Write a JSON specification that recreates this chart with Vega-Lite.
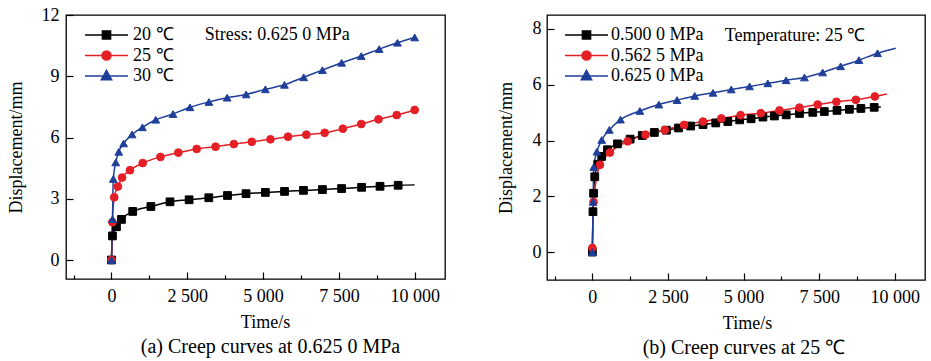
{
  "$schema": "https://vega.github.io/schema/vega-lite/v6.json",
  "padding": {"left": 6, "right": 5, "top": 5, "bottom": 5},
  "config": {
    "font": "Liberation Serif",
    "view": {"stroke": "#000000", "strokeWidth": 1.3},
    "axis": {"domain": false, "grid": false, "labelFont": "Liberation Serif", "labelFontSize": 18, "labelColor": "#000000", "titleFont": "Liberation Serif", "titleFontSize": 18, "titleFontWeight": "normal", "titleColor": "#000000", "tickColor": "#000000", "tickWidth": 1.2, "labelFlush": false, "labelOverlap": false},
    "legend": {"labelFont": "Liberation Serif", "labelFontSize": 18, "labelColor": "#000000"},
    "title": {"font": "Liberation Serif", "fontSize": 20, "fontWeight": "normal", "color": "#000000"}
  },
  "datasets": {
    "aLine": [
      {"t": 0, "d": 0, "s": "20 ℃"}, {"t": 33, "d": 1.18, "s": "20 ℃"}, {"t": 164, "d": 1.63, "s": "20 ℃"}, {"t": 329, "d": 1.99, "s": "20 ℃"}, {"t": 700, "d": 2.38, "s": "20 ℃"}, {"t": 1300, "d": 2.62, "s": "20 ℃"}, {"t": 1930, "d": 2.85, "s": "20 ℃"}, {"t": 2560, "d": 2.95, "s": "20 ℃"}, {"t": 3210, "d": 3.05, "s": "20 ℃"}, {"t": 3826, "d": 3.16, "s": "20 ℃"}, {"t": 4438, "d": 3.25, "s": "20 ℃"}, {"t": 5075, "d": 3.31, "s": "20 ℃"}, {"t": 5707, "d": 3.36, "s": "20 ℃"}, {"t": 6332, "d": 3.41, "s": "20 ℃"}, {"t": 6957, "d": 3.45, "s": "20 ℃"}, {"t": 7590, "d": 3.5, "s": "20 ℃"}, {"t": 8250, "d": 3.56, "s": "20 ℃"}, {"t": 8857, "d": 3.61, "s": "20 ℃"}, {"t": 9455, "d": 3.66, "s": "20 ℃"}, {"t": 10000, "d": 3.68, "s": "20 ℃"},
      {"t": 0, "d": 0, "s": "25 ℃"}, {"t": 30, "d": 1.85, "s": "25 ℃"}, {"t": 90, "d": 3.07, "s": "25 ℃"}, {"t": 210, "d": 3.6, "s": "25 ℃"}, {"t": 350, "d": 4.04, "s": "25 ℃"}, {"t": 610, "d": 4.4, "s": "25 ℃"}, {"t": 1030, "d": 4.75, "s": "25 ℃"}, {"t": 1615, "d": 5.05, "s": "25 ℃"}, {"t": 2204, "d": 5.26, "s": "25 ℃"}, {"t": 2810, "d": 5.44, "s": "25 ℃"}, {"t": 3432, "d": 5.55, "s": "25 ℃"}, {"t": 4036, "d": 5.68, "s": "25 ℃"}, {"t": 4628, "d": 5.79, "s": "25 ℃"}, {"t": 5243, "d": 5.91, "s": "25 ℃"}, {"t": 5822, "d": 6.04, "s": "25 ℃"}, {"t": 6427, "d": 6.14, "s": "25 ℃"}, {"t": 7030, "d": 6.23, "s": "25 ℃"}, {"t": 7632, "d": 6.43, "s": "25 ℃"}, {"t": 8237, "d": 6.66, "s": "25 ℃"}, {"t": 8806, "d": 6.89, "s": "25 ℃"}, {"t": 9408, "d": 7.1, "s": "25 ℃"}, {"t": 10000, "d": 7.35, "s": "25 ℃"},
      {"t": 0, "d": 0, "s": "30 ℃"}, {"t": 33, "d": 2.0, "s": "30 ℃"}, {"t": 60, "d": 3.97, "s": "30 ℃"}, {"t": 140, "d": 4.78, "s": "30 ℃"}, {"t": 240, "d": 5.3, "s": "30 ℃"}, {"t": 400, "d": 5.71, "s": "30 ℃"}, {"t": 680, "d": 6.15, "s": "30 ℃"}, {"t": 1020, "d": 6.5, "s": "30 ℃"}, {"t": 1460, "d": 6.87, "s": "30 ℃"}, {"t": 2030, "d": 7.15, "s": "30 ℃"}, {"t": 2590, "d": 7.48, "s": "30 ℃"}, {"t": 3214, "d": 7.74, "s": "30 ℃"}, {"t": 3816, "d": 7.95, "s": "30 ℃"}, {"t": 4441, "d": 8.11, "s": "30 ℃"}, {"t": 5075, "d": 8.36, "s": "30 ℃"}, {"t": 5704, "d": 8.58, "s": "30 ℃"}, {"t": 6339, "d": 8.95, "s": "30 ℃"}, {"t": 6957, "d": 9.3, "s": "30 ℃"}, {"t": 7590, "d": 9.66, "s": "30 ℃"}, {"t": 8237, "d": 9.99, "s": "30 ℃"}, {"t": 8829, "d": 10.33, "s": "30 ℃"}, {"t": 9431, "d": 10.64, "s": "30 ℃"}, {"t": 10000, "d": 10.9, "s": "30 ℃"}
    ],
    "aPts": [
      {"t": 0, "d": 0, "s": "20 ℃"}, {"t": 33, "d": 1.18, "s": "20 ℃"}, {"t": 164, "d": 1.63, "s": "20 ℃"}, {"t": 329, "d": 1.99, "s": "20 ℃"}, {"t": 700, "d": 2.38, "s": "20 ℃"}, {"t": 1300, "d": 2.62, "s": "20 ℃"}, {"t": 1930, "d": 2.85, "s": "20 ℃"}, {"t": 2560, "d": 2.95, "s": "20 ℃"}, {"t": 3210, "d": 3.05, "s": "20 ℃"}, {"t": 3826, "d": 3.16, "s": "20 ℃"}, {"t": 4438, "d": 3.25, "s": "20 ℃"}, {"t": 5075, "d": 3.31, "s": "20 ℃"}, {"t": 5707, "d": 3.36, "s": "20 ℃"}, {"t": 6332, "d": 3.41, "s": "20 ℃"}, {"t": 6957, "d": 3.45, "s": "20 ℃"}, {"t": 7590, "d": 3.5, "s": "20 ℃"}, {"t": 8250, "d": 3.56, "s": "20 ℃"}, {"t": 8857, "d": 3.61, "s": "20 ℃"}, {"t": 9455, "d": 3.66, "s": "20 ℃"},
      {"t": 0, "d": 0, "s": "25 ℃"}, {"t": 30, "d": 1.85, "s": "25 ℃"}, {"t": 90, "d": 3.07, "s": "25 ℃"}, {"t": 210, "d": 3.6, "s": "25 ℃"}, {"t": 350, "d": 4.04, "s": "25 ℃"}, {"t": 610, "d": 4.4, "s": "25 ℃"}, {"t": 1030, "d": 4.75, "s": "25 ℃"}, {"t": 1615, "d": 5.05, "s": "25 ℃"}, {"t": 2204, "d": 5.26, "s": "25 ℃"}, {"t": 2810, "d": 5.44, "s": "25 ℃"}, {"t": 3432, "d": 5.55, "s": "25 ℃"}, {"t": 4036, "d": 5.68, "s": "25 ℃"}, {"t": 4628, "d": 5.79, "s": "25 ℃"}, {"t": 5243, "d": 5.91, "s": "25 ℃"}, {"t": 5822, "d": 6.04, "s": "25 ℃"}, {"t": 6427, "d": 6.14, "s": "25 ℃"}, {"t": 7030, "d": 6.23, "s": "25 ℃"}, {"t": 7632, "d": 6.43, "s": "25 ℃"}, {"t": 8237, "d": 6.66, "s": "25 ℃"}, {"t": 8806, "d": 6.89, "s": "25 ℃"}, {"t": 9408, "d": 7.1, "s": "25 ℃"}, {"t": 10000, "d": 7.35, "s": "25 ℃"},
      {"t": 0, "d": 0, "s": "30 ℃"}, {"t": 33, "d": 2.0, "s": "30 ℃"}, {"t": 60, "d": 3.97, "s": "30 ℃"}, {"t": 140, "d": 4.78, "s": "30 ℃"}, {"t": 240, "d": 5.3, "s": "30 ℃"}, {"t": 400, "d": 5.71, "s": "30 ℃"}, {"t": 680, "d": 6.15, "s": "30 ℃"}, {"t": 1020, "d": 6.5, "s": "30 ℃"}, {"t": 1460, "d": 6.87, "s": "30 ℃"}, {"t": 2030, "d": 7.15, "s": "30 ℃"}, {"t": 2590, "d": 7.48, "s": "30 ℃"}, {"t": 3214, "d": 7.74, "s": "30 ℃"}, {"t": 3816, "d": 7.95, "s": "30 ℃"}, {"t": 4441, "d": 8.11, "s": "30 ℃"}, {"t": 5075, "d": 8.36, "s": "30 ℃"}, {"t": 5704, "d": 8.58, "s": "30 ℃"}, {"t": 6339, "d": 8.95, "s": "30 ℃"}, {"t": 6957, "d": 9.3, "s": "30 ℃"}, {"t": 7590, "d": 9.66, "s": "30 ℃"}, {"t": 8237, "d": 9.99, "s": "30 ℃"}, {"t": 8829, "d": 10.33, "s": "30 ℃"}, {"t": 9431, "d": 10.64, "s": "30 ℃"}, {"t": 10000, "d": 10.9, "s": "30 ℃"}
    ],
    "bLine": [
      {"t": 0, "d": 0, "s": "0.500 0 MPa"}, {"t": 20, "d": 1.45, "s": "0.500 0 MPa"}, {"t": 40, "d": 2.11, "s": "0.500 0 MPa"}, {"t": 80, "d": 2.7, "s": "0.500 0 MPa"}, {"t": 180, "d": 3.15, "s": "0.500 0 MPa"}, {"t": 310, "d": 3.43, "s": "0.500 0 MPa"}, {"t": 500, "d": 3.67, "s": "0.500 0 MPa"}, {"t": 830, "d": 3.88, "s": "0.500 0 MPa"}, {"t": 1250, "d": 4.05, "s": "0.500 0 MPa"}, {"t": 1650, "d": 4.18, "s": "0.500 0 MPa"}, {"t": 2050, "d": 4.29, "s": "0.500 0 MPa"}, {"t": 2450, "d": 4.37, "s": "0.500 0 MPa"}, {"t": 2850, "d": 4.45, "s": "0.500 0 MPa"}, {"t": 3250, "d": 4.52, "s": "0.500 0 MPa"}, {"t": 3660, "d": 4.57, "s": "0.500 0 MPa"}, {"t": 4080, "d": 4.63, "s": "0.500 0 MPa"}, {"t": 4480, "d": 4.68, "s": "0.500 0 MPa"}, {"t": 4870, "d": 4.74, "s": "0.500 0 MPa"}, {"t": 5250, "d": 4.78, "s": "0.500 0 MPa"}, {"t": 5640, "d": 4.84, "s": "0.500 0 MPa"}, {"t": 6020, "d": 4.88, "s": "0.500 0 MPa"}, {"t": 6410, "d": 4.92, "s": "0.500 0 MPa"}, {"t": 6850, "d": 4.97, "s": "0.500 0 MPa"}, {"t": 7290, "d": 5.01, "s": "0.500 0 MPa"}, {"t": 7670, "d": 5.04, "s": "0.500 0 MPa"}, {"t": 8090, "d": 5.08, "s": "0.500 0 MPa"}, {"t": 8500, "d": 5.12, "s": "0.500 0 MPa"}, {"t": 8880, "d": 5.15, "s": "0.500 0 MPa"}, {"t": 9320, "d": 5.19, "s": "0.500 0 MPa"}, {"t": 9540, "d": 5.2, "s": "0.500 0 MPa"},
      {"t": 0, "d": 0.15, "s": "0.562 5 MPa"}, {"t": 40, "d": 1.8, "s": "0.562 5 MPa"}, {"t": 253, "d": 3.13, "s": "0.562 5 MPa"}, {"t": 582, "d": 3.57, "s": "0.562 5 MPa"}, {"t": 1165, "d": 3.97, "s": "0.562 5 MPa"}, {"t": 1758, "d": 4.21, "s": "0.562 5 MPa"}, {"t": 2396, "d": 4.38, "s": "0.562 5 MPa"}, {"t": 3033, "d": 4.56, "s": "0.562 5 MPa"}, {"t": 3659, "d": 4.68, "s": "0.562 5 MPa"}, {"t": 4264, "d": 4.79, "s": "0.562 5 MPa"}, {"t": 4901, "d": 4.91, "s": "0.562 5 MPa"}, {"t": 5570, "d": 4.98, "s": "0.562 5 MPa"}, {"t": 6187, "d": 5.08, "s": "0.562 5 MPa"}, {"t": 6846, "d": 5.18, "s": "0.562 5 MPa"}, {"t": 7451, "d": 5.29, "s": "0.562 5 MPa"}, {"t": 8070, "d": 5.39, "s": "0.562 5 MPa"}, {"t": 8714, "d": 5.46, "s": "0.562 5 MPa"}, {"t": 9341, "d": 5.58, "s": "0.562 5 MPa"}, {"t": 9737, "d": 5.67, "s": "0.562 5 MPa"},
      {"t": 0, "d": 0, "s": "0.625 0 MPa"}, {"t": 25, "d": 1.8, "s": "0.625 0 MPa"}, {"t": 45, "d": 3.05, "s": "0.625 0 MPa"}, {"t": 150, "d": 3.6, "s": "0.625 0 MPa"}, {"t": 310, "d": 4.02, "s": "0.625 0 MPa"}, {"t": 560, "d": 4.38, "s": "0.625 0 MPa"}, {"t": 930, "d": 4.75, "s": "0.625 0 MPa"}, {"t": 1571, "d": 5.06, "s": "0.625 0 MPa"}, {"t": 2200, "d": 5.29, "s": "0.625 0 MPa"}, {"t": 2800, "d": 5.45, "s": "0.625 0 MPa"}, {"t": 3385, "d": 5.6, "s": "0.625 0 MPa"}, {"t": 3989, "d": 5.71, "s": "0.625 0 MPa"}, {"t": 4593, "d": 5.83, "s": "0.625 0 MPa"}, {"t": 5198, "d": 5.94, "s": "0.625 0 MPa"}, {"t": 5802, "d": 6.05, "s": "0.625 0 MPa"}, {"t": 6407, "d": 6.16, "s": "0.625 0 MPa"}, {"t": 7012, "d": 6.26, "s": "0.625 0 MPa"}, {"t": 7615, "d": 6.44, "s": "0.625 0 MPa"}, {"t": 8210, "d": 6.66, "s": "0.625 0 MPa"}, {"t": 8815, "d": 6.88, "s": "0.625 0 MPa"}, {"t": 9430, "d": 7.13, "s": "0.625 0 MPa"}, {"t": 10033, "d": 7.31, "s": "0.625 0 MPa"}
    ],
    "bPts": [
      {"t": 0, "d": 0, "s": "0.500 0 MPa"}, {"t": 20, "d": 1.45, "s": "0.500 0 MPa"}, {"t": 40, "d": 2.11, "s": "0.500 0 MPa"}, {"t": 80, "d": 2.7, "s": "0.500 0 MPa"}, {"t": 180, "d": 3.15, "s": "0.500 0 MPa"}, {"t": 310, "d": 3.43, "s": "0.500 0 MPa"}, {"t": 500, "d": 3.67, "s": "0.500 0 MPa"}, {"t": 830, "d": 3.88, "s": "0.500 0 MPa"}, {"t": 1250, "d": 4.05, "s": "0.500 0 MPa"}, {"t": 1650, "d": 4.18, "s": "0.500 0 MPa"}, {"t": 2050, "d": 4.29, "s": "0.500 0 MPa"}, {"t": 2450, "d": 4.37, "s": "0.500 0 MPa"}, {"t": 2850, "d": 4.45, "s": "0.500 0 MPa"}, {"t": 3250, "d": 4.52, "s": "0.500 0 MPa"}, {"t": 3660, "d": 4.57, "s": "0.500 0 MPa"}, {"t": 4080, "d": 4.63, "s": "0.500 0 MPa"}, {"t": 4480, "d": 4.68, "s": "0.500 0 MPa"}, {"t": 4870, "d": 4.74, "s": "0.500 0 MPa"}, {"t": 5250, "d": 4.78, "s": "0.500 0 MPa"}, {"t": 5640, "d": 4.84, "s": "0.500 0 MPa"}, {"t": 6020, "d": 4.88, "s": "0.500 0 MPa"}, {"t": 6410, "d": 4.92, "s": "0.500 0 MPa"}, {"t": 6850, "d": 4.97, "s": "0.500 0 MPa"}, {"t": 7290, "d": 5.01, "s": "0.500 0 MPa"}, {"t": 7670, "d": 5.04, "s": "0.500 0 MPa"}, {"t": 8090, "d": 5.08, "s": "0.500 0 MPa"}, {"t": 8500, "d": 5.12, "s": "0.500 0 MPa"}, {"t": 8880, "d": 5.15, "s": "0.500 0 MPa"}, {"t": 9320, "d": 5.19, "s": "0.500 0 MPa"},
      {"t": 0, "d": 0.15, "s": "0.562 5 MPa"}, {"t": 40, "d": 1.8, "s": "0.562 5 MPa"}, {"t": 253, "d": 3.13, "s": "0.562 5 MPa"}, {"t": 582, "d": 3.57, "s": "0.562 5 MPa"}, {"t": 1165, "d": 3.97, "s": "0.562 5 MPa"}, {"t": 1758, "d": 4.21, "s": "0.562 5 MPa"}, {"t": 2396, "d": 4.38, "s": "0.562 5 MPa"}, {"t": 3033, "d": 4.56, "s": "0.562 5 MPa"}, {"t": 3659, "d": 4.68, "s": "0.562 5 MPa"}, {"t": 4264, "d": 4.79, "s": "0.562 5 MPa"}, {"t": 4901, "d": 4.91, "s": "0.562 5 MPa"}, {"t": 5570, "d": 4.98, "s": "0.562 5 MPa"}, {"t": 6187, "d": 5.08, "s": "0.562 5 MPa"}, {"t": 6846, "d": 5.18, "s": "0.562 5 MPa"}, {"t": 7451, "d": 5.29, "s": "0.562 5 MPa"}, {"t": 8070, "d": 5.39, "s": "0.562 5 MPa"}, {"t": 8714, "d": 5.46, "s": "0.562 5 MPa"}, {"t": 9341, "d": 5.58, "s": "0.562 5 MPa"},
      {"t": 0, "d": 0, "s": "0.625 0 MPa"}, {"t": 25, "d": 1.8, "s": "0.625 0 MPa"}, {"t": 45, "d": 3.05, "s": "0.625 0 MPa"}, {"t": 150, "d": 3.6, "s": "0.625 0 MPa"}, {"t": 310, "d": 4.02, "s": "0.625 0 MPa"}, {"t": 560, "d": 4.38, "s": "0.625 0 MPa"}, {"t": 930, "d": 4.75, "s": "0.625 0 MPa"}, {"t": 1571, "d": 5.06, "s": "0.625 0 MPa"}, {"t": 2200, "d": 5.29, "s": "0.625 0 MPa"}, {"t": 2800, "d": 5.45, "s": "0.625 0 MPa"}, {"t": 3385, "d": 5.6, "s": "0.625 0 MPa"}, {"t": 3989, "d": 5.71, "s": "0.625 0 MPa"}, {"t": 4593, "d": 5.83, "s": "0.625 0 MPa"}, {"t": 5198, "d": 5.94, "s": "0.625 0 MPa"}, {"t": 5802, "d": 6.05, "s": "0.625 0 MPa"}, {"t": 6407, "d": 6.16, "s": "0.625 0 MPa"}, {"t": 7012, "d": 6.26, "s": "0.625 0 MPa"}, {"t": 7615, "d": 6.44, "s": "0.625 0 MPa"}, {"t": 8210, "d": 6.66, "s": "0.625 0 MPa"}, {"t": 8815, "d": 6.88, "s": "0.625 0 MPa"}, {"t": 9430, "d": 7.13, "s": "0.625 0 MPa"}
    ]
  },
  "spacing": 50,
  "resolve": {
    "scale": {"color": "independent", "fill": "independent", "stroke": "independent", "shape": "independent", "x": "independent", "y": "independent"},
    "legend": {"color": "independent", "fill": "independent", "stroke": "independent", "shape": "independent"}
  },
  "hconcat": [
    {
      "width": 379,
      "height": 264,
      "title": {"text": "(a) Creep curves at 0.625 0 MPa", "orient": "bottom", "anchor": "middle", "frame": "group", "offset": 6, "dx": 15},
      "resolve": {"scale": {"fill": "independent", "stroke": "independent", "shape": "independent"}},
      "layer": [
        {
          "data": {"name": "aLine"},
          "mark": {"type": "line", "strokeWidth": 1.5, "interpolate": "monotone"},
          "encoding": {
            "x": {"field": "t", "type": "quantitative", "scale": {"domain": [-1500, 11000], "nice": false, "zero": false},
              "axis": {"title": "Time/s", "values": [-1250, 0, 1250, 2500, 3750, 5000, 6250, 7500, 8750, 10000],
                "labelExpr": "datum.value % 2500 === 0 ? replace(format(datum.value, ','), ',', ' ') : ''",
                "tickSize": {"condition": {"test": "datum.value % 2500 === 0", "value": -7}, "value": -4},
                "labelPadding": 15, "titlePadding": 5, "titleX": 199}},
            "y": {"field": "d", "type": "quantitative", "scale": {"domain": [-0.93, 12], "nice": false, "zero": false},
              "axis": {"title": "Displacement/mm", "values": [0, 1.5, 3, 4.5, 6, 7.5, 9, 10.5, 12],
                "labelExpr": "datum.value % 3 === 0 ? datum.label : ''",
                "tickSize": {"condition": {"test": "datum.value % 3 === 0", "value": -7}, "value": -4},
                "labelPadding": 14, "titlePadding": 16}},
            "color": {"field": "s", "type": "nominal", "scale": {"range": ["#000000", "#e51f26", "#1f3f9a"]}, "legend": null}
          }
        },
        {
          "data": {"name": "aPts"},
          "mark": {"type": "point", "filled": true, "size": 60, "strokeWidth": 1, "opacity": 1},
          "encoding": {
            "x": {"field": "t", "type": "quantitative"},
            "y": {"field": "d", "type": "quantitative"},
            "fill": {"field": "s", "type": "nominal", "scale": {"domain": ["20 ℃", "25 ℃", "30 ℃"], "range": ["#000000", "#e51f26", "#1f3f9a"]}, "legend": null},
            "stroke": {"field": "s", "type": "nominal", "scale": {"domain": ["20 ℃", "25 ℃", "30 ℃"], "range": ["#000000", "#e51f26", "#1f3f9a"]}, "legend": null},
            "shape": {"field": "s", "type": "nominal", "scale": {"domain": ["20 ℃", "25 ℃", "30 ℃"], "range": ["square", "circle", "triangle-up"]}, "legend": null}
          }
        },
        {
          "data": {"name": "aPts"},
          "mark": {"type": "point", "filled": true, "size": 0, "strokeWidth": 1.5, "opacity": 1},
          "encoding": {
            "x": {"field": "t", "type": "quantitative"},
            "y": {"field": "d", "type": "quantitative"},
            "fill": {"field": "s", "type": "nominal", "scale": {"range": ["#000000", "#e51f26", "#1f3f9a"]},
              "legend": {"title": null, "orient": "none", "legendX": 18, "legendY": 10, "padding": 0, "offset": 0, "clipHeight": 20, "rowPadding": 0.5, "labelOffset": 4, "symbolSize": 1849, "symbolStrokeWidth": 1.5, "symbolOpacity": 1}},
            "stroke": {"field": "s", "type": "nominal", "scale": {"range": ["#000000", "#e51f26", "#1f3f9a"]},
              "legend": {"title": null, "orient": "none", "legendX": 18, "legendY": 10, "padding": 0, "offset": 0, "clipHeight": 20, "rowPadding": 0.5, "labelOffset": 4, "symbolSize": 1849, "symbolStrokeWidth": 1.5, "symbolOpacity": 1}},
            "shape": {"field": "s", "type": "nominal", "scale": {"range": ["M-1,0H1M-0.19,-0.19H0.19V0.19H-0.19Z", "M-1,0H1M-0.21,0A0.21,0.21,0,1,0,0.21,0A0.21,0.21,0,1,0,-0.21,0Z", "M-1,0H1M0,-0.26L0.24,0.17H-0.24Z"]},
              "legend": {"title": null, "orient": "none", "legendX": 18, "legendY": 10, "padding": 0, "offset": 0, "clipHeight": 20, "rowPadding": 0.5, "labelOffset": 4, "symbolSize": 1849, "symbolStrokeWidth": 1.5, "symbolOpacity": 1}}
          }
        },
        {
          "data": {"values": [{}]},
          "mark": {"type": "text", "align": "left", "baseline": "middle", "font": "Liberation Serif", "fontSize": 18, "color": "#000000", "text": "Stress: 0.625 0 MPa"},
          "encoding": {"x": {"datum": 3079, "type": "quantitative"}, "y": {"datum": 11.02, "type": "quantitative"}}
        }
      ]
    },
    {
      "width": 378,
      "height": 265,
      "title": {"text": "(b) Creep curves at 25 ℃", "orient": "bottom", "anchor": "middle", "frame": "group", "offset": 6, "dx": 8},
      "resolve": {"scale": {"fill": "independent", "stroke": "independent", "shape": "independent"}},
      "layer": [
        {
          "data": {"name": "bLine"},
          "mark": {"type": "line", "strokeWidth": 1.5, "interpolate": "monotone"},
          "encoding": {
            "x": {"field": "t", "type": "quantitative", "scale": {"domain": [-1500, 11000], "nice": false, "zero": false},
              "axis": {"title": "Time/s", "values": [-1250, 0, 1250, 2500, 3750, 5000, 6250, 7500, 8750, 10000],
                "labelExpr": "datum.value % 2500 === 0 ? replace(format(datum.value, ','), ',', ' ') : ''",
                "tickSize": {"condition": {"test": "datum.value % 2500 === 0", "value": -7}, "value": -4},
                "labelPadding": 15, "titlePadding": 5, "titleX": 200}},
            "y": {"field": "d", "type": "quantitative", "scale": {"domain": [-1, 8.5], "nice": false, "zero": false},
              "axis": {"title": "Displacement/mm", "values": [0, 1, 2, 3, 4, 5, 6, 7, 8],
                "labelExpr": "datum.value % 2 === 0 ? datum.label : ''",
                "tickSize": {"condition": {"test": "datum.value % 2 === 0", "value": -7}, "value": -4},
                "labelPadding": 13, "titlePadding": 17}},
            "color": {"field": "s", "type": "nominal", "scale": {"range": ["#000000", "#e51f26", "#1f3f9a"]}, "legend": null}
          }
        },
        {
          "data": {"name": "bPts"},
          "mark": {"type": "point", "filled": true, "size": 60, "strokeWidth": 1, "opacity": 1},
          "encoding": {
            "x": {"field": "t", "type": "quantitative"},
            "y": {"field": "d", "type": "quantitative"},
            "fill": {"field": "s", "type": "nominal", "scale": {"domain": ["0.500 0 MPa", "0.562 5 MPa", "0.625 0 MPa"], "range": ["#000000", "#e51f26", "#1f3f9a"]}, "legend": null},
            "stroke": {"field": "s", "type": "nominal", "scale": {"domain": ["0.500 0 MPa", "0.562 5 MPa", "0.625 0 MPa"], "range": ["#000000", "#e51f26", "#1f3f9a"]}, "legend": null},
            "shape": {"field": "s", "type": "nominal", "scale": {"domain": ["0.500 0 MPa", "0.562 5 MPa", "0.625 0 MPa"], "range": ["square", "circle", "triangle-up"]}, "legend": null}
          }
        },
        {
          "data": {"name": "bPts"},
          "mark": {"type": "point", "filled": true, "size": 0, "strokeWidth": 1.5, "opacity": 1},
          "encoding": {
            "x": {"field": "t", "type": "quantitative"},
            "y": {"field": "d", "type": "quantitative"},
            "fill": {"field": "s", "type": "nominal", "scale": {"range": ["#000000", "#e51f26", "#1f3f9a"]},
              "legend": {"title": null, "orient": "none", "legendX": 17, "legendY": 10, "padding": 0, "offset": 0, "clipHeight": 20, "rowPadding": 0.5, "labelOffset": 2, "symbolSize": 1849, "symbolStrokeWidth": 1.5, "symbolOpacity": 1}},
            "stroke": {"field": "s", "type": "nominal", "scale": {"range": ["#000000", "#e51f26", "#1f3f9a"]},
              "legend": {"title": null, "orient": "none", "legendX": 17, "legendY": 10, "padding": 0, "offset": 0, "clipHeight": 20, "rowPadding": 0.5, "labelOffset": 2, "symbolSize": 1849, "symbolStrokeWidth": 1.5, "symbolOpacity": 1}},
            "shape": {"field": "s", "type": "nominal", "scale": {"range": ["M-1,0H1M-0.19,-0.19H0.19V0.19H-0.19Z", "M-1,0H1M-0.21,0A0.21,0.21,0,1,0,0.21,0A0.21,0.21,0,1,0,-0.21,0Z", "M-1,0H1M0,-0.26L0.24,0.17H-0.24Z"]},
              "legend": {"title": null, "orient": "none", "legendX": 17, "legendY": 10, "padding": 0, "offset": 0, "clipHeight": 20, "rowPadding": 0.5, "labelOffset": 2, "symbolSize": 1849, "symbolStrokeWidth": 1.5, "symbolOpacity": 1}}
          }
        },
        {
          "data": {"values": [{}]},
          "mark": {"type": "text", "align": "left", "baseline": "middle", "font": "Liberation Serif", "fontSize": 18, "color": "#000000", "text": "Temperature: 25 ℃"},
          "encoding": {"x": {"datum": 4375, "type": "quantitative"}, "y": {"datum": 7.73, "type": "quantitative"}}
        }
      ]
    }
  ]
}
